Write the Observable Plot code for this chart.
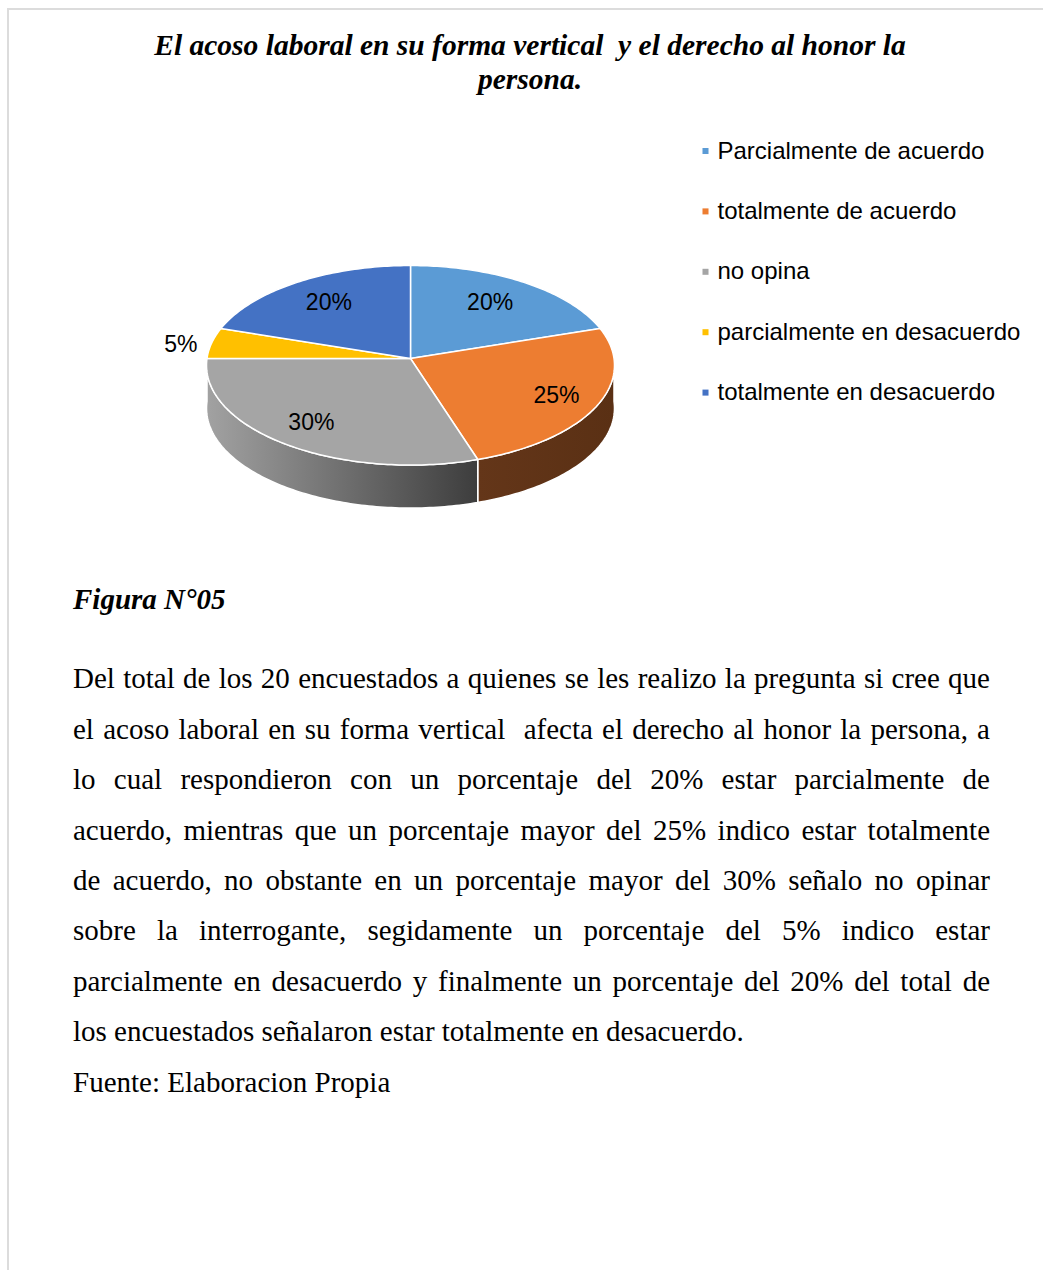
<!DOCTYPE html>
<html>
<head>
<meta charset="utf-8">
<script src="https://cdn.jsdelivr.net/npm/d3@7"></script>
<script src="https://cdn.jsdelivr.net/npm/@observablehq/plot@0.6"></script>
<style>
  html, body { margin: 0; padding: 0; background: #fff; }
  #page { position: relative; width: 1043px; height: 1270px; overflow: hidden; background: #fff; }
  .frame-top { position: absolute; left: 7px; top: 8px; width: 1036px; height: 2px; background: #dcdcdc; }
  .frame-left { position: absolute; left: 7px; top: 8px; width: 2px; height: 1262px; background: #dcdcdc; }
  .title { position: absolute; left: 30px; width: 1000px; text-align: center;
           font-family: "Liberation Serif", "Times New Roman", serif; font-weight: bold; font-style: italic;
           font-size: 29.5px; line-height: 29.5px; white-space: pre; color: #000; }
  .figura { position: absolute; left: 73px; font-family: "Liberation Serif", "Times New Roman", serif;
            font-weight: bold; font-style: italic; font-size: 29px; line-height: 29px; color: #000; }
  .line { position: absolute; left: 73px; width: 917px; font-family: "Liberation Serif", "Times New Roman", serif;
          font-size: 29px; line-height: 29px; color: #000; text-align: justify; text-align-last: justify; }
  .line.last { text-align: left; text-align-last: left; }
  #chart { position: absolute; left: 0; top: 110px; }
</style>
</head>
<body>
<div id="page">
  <div class="frame-top"></div>
  <div class="frame-left"></div>
  <div id="titles"></div>
  <div id="chart"></div>
  <div id="text"></div>
</div>
<script>
// ---------- data ----------
const categories = ["Parcialmente de acuerdo", "totalmente de acuerdo", "no opina", "parcialmente en desacuerdo", "totalmente en desacuerdo"];
const percentages = [20, 25, 30, 5, 20];
const colors = ["#5B9BD5", "#ED7D31", "#A5A5A5", "#FFC000", "#4472C4"];
const sideStops = [["#3d6d99", "#30587d"], ["#643619", "#5a3014"], ["#a2a2a2", "#3d3d3d"], ["#b38700", "#8a6800"], ["#30508c", "#27447a"]];
const titleLines = ["El acoso laboral en su forma vertical  y el derecho al honor la", "persona."];
const figureLabel = "Figura N°05";
const bodyLines = [
  "Del total de los 20 encuestados a quienes se les realizo la pregunta si cree que",
  "el acoso laboral en su forma vertical\u00a0 afecta el derecho al honor la persona, a",
  "lo cual respondieron con un porcentaje del 20% estar parcialmente de",
  "acuerdo, mientras que un porcentaje mayor del 25% indico estar totalmente",
  "de acuerdo, no obstante en un porcentaje mayor del 30% señalo no opinar",
  "sobre la interrogante, segidamente un porcentaje del 5% indico estar",
  "parcialmente en desacuerdo y finalmente un porcentaje del 20% del total de",
  "los encuestados señalaron estar totalmente en desacuerdo."
];
const sourceLine = "Fuente: Elaboracion Propia";

// ---------- layout ----------
const W = 1043, H = 440, chartTop = 110;
const pie = {cx: 410, cy: 358 - chartTop, rx: 203.5, ry: 99.3, persp: 0.068, depth: 43};
const labelRadius = [0.72, 0.78, 0.72, 1.15, 0.72];
const labelNudge = [[-2, -1], [0, 1], [-8, 3], [-1, 4], [0, -1]];
const legend = {x: 705, textX: 717, y0: 150.5 - chartTop, step: 60.4};

// ---------- text blocks ----------
const serifBaseline = 0.8375; // baseline offset (em) for line-height 1 in Liberation Serif
const titles = document.getElementById("titles");
[56, 90].forEach((b, i) => {
  const d = document.createElement("div");
  d.className = "title";
  d.style.top = (b - 29.5 * serifBaseline) + "px";
  d.textContent = titleLines[i];
  titles.appendChild(d);
});
const textBox = document.getElementById("text");
const fig = document.createElement("div");
fig.className = "figura";
fig.style.top = (609.3 - 29 * serifBaseline) + "px";
fig.textContent = figureLabel;
textBox.appendChild(fig);
[...bodyLines, sourceLine].forEach((t, i) => {
  const d = document.createElement("div");
  d.className = "line" + (i >= bodyLines.length - 1 ? " last" : "");
  d.style.top = (688.6 + i * 50.4 - 29 * serifBaseline) + "px";
  d.textContent = t;
  textBox.appendChild(d);
});

// ---------- pie geometry ----------
function proj(theta, f = 1, z = 0) {
  const v = -Math.cos(theta);
  const s = 1 / (1 - pie.persp * v);
  return [pie.cx + pie.rx * f * Math.sin(theta) * s, pie.cy + pie.ry * f * v * s + z];
}
function arc(a, b, z) {
  const n = Math.max(2, Math.ceil(Math.abs(b - a) / (Math.PI / 180)));
  return d3.range(n + 1).map(i => proj(a + (b - a) * i / n, 1, z));
}
const total = d3.sum(percentages);
let acc = 0;
const slices = percentages.map((p, i) => {
  const a = acc / total * 2 * Math.PI;
  acc += p;
  const b = acc / total * 2 * Math.PI;
  return {i, a, b, mid: (a + b) / 2, p};
});

const topRows = [];
const sideRows = [];
slices.forEach(s => {
  const pts = [[pie.cx, pie.cy], ...arc(s.a, s.b, 0)];
  pts.forEach(([x, y]) => topRows.push({id: "top" + s.i, x, y, fill: colors[s.i]}));
  const lo = Math.max(s.a, Math.PI / 2), hi = Math.min(s.b, 3 * Math.PI / 2);
  if (lo < hi) {
    const sp = [...arc(lo, hi, 0), ...arc(hi, lo, pie.depth)];
    sp.forEach(([x, y]) => sideRows.push({id: "side" + s.i, x, y, fill: `url(#side${s.i})`}));
  }
});

const labelRows = slices.map(s => {
  const [x, y] = proj(s.mid, labelRadius[s.i], 0);
  return {x: x + labelNudge[s.i][0], y: y + labelNudge[s.i][1], text: s.p + "%"};
});
const legendRows = categories.map((c, i) => ({y: legend.y0 + i * legend.step, text: c, color: colors[i]}));

const sans = "'Liberation Sans', Arial, sans-serif";
const chart = Plot.plot({
  width: W, height: H, margin: 0,
  x: {domain: [0, W], range: [0, W], axis: null},
  y: {domain: [0, H], range: [0, H], axis: null},
  color: {type: "identity"},
  style: {background: "transparent", overflow: "visible"},
  marks: [
    Plot.line(sideRows, {x: "x", y: "y", z: "id", fill: "fill", stroke: "#fff", strokeWidth: 1.5, curve: "linear-closed", strokeLinejoin: "round"}),
    Plot.line(topRows, {x: "x", y: "y", z: "id", fill: "fill", stroke: "#fff", strokeWidth: 1.5, curve: "linear-closed", strokeLinejoin: "round"}),
    Plot.text(labelRows, {x: "x", y: "y", text: "text", fontSize: 23, fontFamily: sans, fill: "#000"}),
    Plot.dot(legendRows, {x: () => legend.x, y: "y", symbol: "square", r: 3.4, fill: "color"}),
    Plot.text(legendRows, {x: () => legend.textX, y: "y", text: "text", textAnchor: "start", fontSize: 24, fontFamily: sans, fill: "#000"})
  ]
});

const defs = d3.select(chart).insert("defs", ":first-child");
sideStops.forEach((st, i) => {
  const g = defs.append("linearGradient").attr("id", `side${i}`).attr("x1", 0).attr("x2", 1).attr("y1", 0).attr("y2", 0);
  g.append("stop").attr("offset", 0).attr("stop-color", st[0]);
  g.append("stop").attr("offset", 1).attr("stop-color", st[1]);
});
document.getElementById("chart").appendChild(chart);
</script>
</body>
</html>
